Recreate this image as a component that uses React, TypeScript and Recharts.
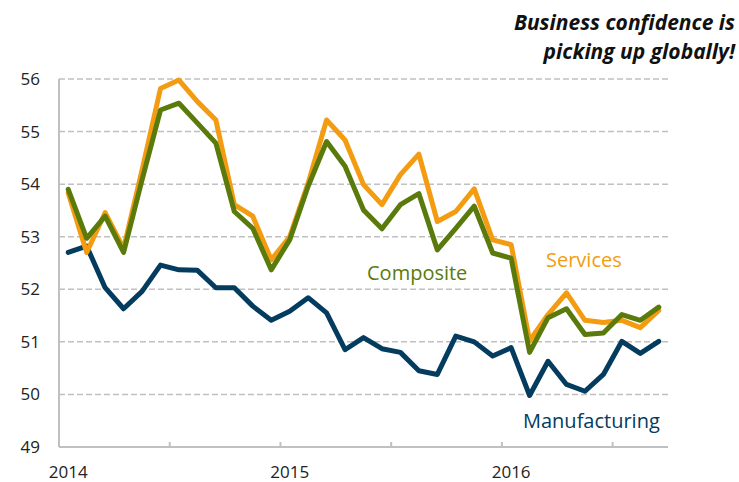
import { LineChart, Line, XAxis, YAxis, CartesianGrid } from "recharts";

const months = [
  "Jan 14", "Feb 14", "Mar 14", "Apr 14", "May 14", "Jun 14", "Jul 14", "Aug 14", "Sep 14", "Oct 14", "Nov 14", "Dec 14",
  "Jan 15", "Feb 15", "Mar 15", "Apr 15", "May 15", "Jun 15", "Jul 15", "Aug 15", "Sep 15", "Oct 15", "Nov 15", "Dec 15",
  "Jan 16", "Feb 16", "Mar 16", "Apr 16", "May 16", "Jun 16", "Jul 16", "Aug 16", "Sep 16",
];

const services = [
  53.83, 52.7, 53.46, 52.78, 54.27, 55.82, 55.98, 55.57, 55.22, 53.61, 53.39, 52.56,
  53.0, 54.02, 55.22, 54.84, 53.99, 53.61, 54.18, 54.57, 53.29, 53.48, 53.91, 52.94,
  52.85, 51.02, 51.52, 51.93, 51.41, 51.37, 51.41, 51.27, 51.6,
];

const composite = [
  53.9, 52.97, 53.39, 52.7, 54.08, 55.41, 55.54, 55.16, 54.78, 53.48, 53.16, 52.37,
  52.94, 53.96, 54.81, 54.34, 53.51, 53.15, 53.61, 53.82, 52.75, 53.16, 53.58, 52.69,
  52.59, 50.8, 51.46, 51.63, 51.14, 51.17, 51.52, 51.41, 51.66,
];

const manufacturing = [
  52.7, 52.82, 52.03, 51.63, 51.96, 52.46, 52.37, 52.36, 52.03, 52.03, 51.68, 51.41,
  51.58, 51.84, 51.55, 50.85, 51.08, 50.87, 50.8, 50.45, 50.38, 51.11, 51.0, 50.73,
  50.89, 49.98, 50.63, 50.19, 50.06, 50.38, 51.01, 50.78, 51.01,
];

const years = ["2014", "2015", "2016"];
const yTicks = [49, 50, 51, 52, 53, 54, 55, 56];
// year labels sit on january, tick marks between months every half year
const xTicks = [0, 5.5, 11.5, 12, 17.5, 23.5, 24, 29.5];

const ORANGE = "#f39c12";
const GREEN = "#5a7a0b";
const NAVY = "#033c5e";
const GRID = "#c0c0c0";
const FONT = "'Open Sans', sans-serif";

const data = months.map((m, i) => ({
  i,
  month: m,
  services: services[i],
  composite: composite[i],
  manufacturing: manufacturing[i],
}));

const XTick = ({ x, y, payload }: any) => {
  const v = payload.value;
  if (Number.isInteger(v)) {
    return (
      <text x={x} y={y + 31} textAnchor="middle" fontSize={17} fill="#222" fontFamily={FONT}>
        {years[v / 12]}
      </text>
    );
  }
  return <line x1={x} x2={x} y1={y} y2={y - 5} stroke={GRID} strokeWidth={2} />;
};

export default function App() {
  return (
    <div style={{ position: "absolute", left: 0, top: 0, width: 739, height: 482, background: "#fff" }}>
      <LineChart width={739} height={482} data={data} margin={{ top: 79, right: 71, bottom: 0, left: 0 }}>
        <CartesianGrid vertical={false} stroke={GRID} strokeDasharray="6 3" strokeWidth={1.5} />
        <XAxis
          dataKey="i" type="number" domain={[-0.5, 32.5]} ticks={xTicks} interval={0}
          height={35} tickSize={0} tickMargin={0} tickLine={false}
          axisLine={{ stroke: GRID, strokeWidth: 2 }} tick={<XTick />}
        />
        <YAxis
          domain={[49, 56]} ticks={yTicks} interval={0} width={59}
          tickSize={0} tickMargin={19} tickLine={false}
          axisLine={{ stroke: GRID, strokeWidth: 2 }}
          tick={{ fill: "#222", fontSize: 17, fontFamily: FONT }}
        />
        <Line type="linear" dataKey="manufacturing" stroke={NAVY} strokeWidth={5} dot={false}
          strokeLinejoin="round" strokeLinecap="round" isAnimationActive={false} />
        <Line type="linear" dataKey="services" stroke={ORANGE} strokeWidth={5} dot={false}
          strokeLinejoin="round" strokeLinecap="round" isAnimationActive={false} />
        <Line type="linear" dataKey="composite" stroke={GREEN} strokeWidth={5} dot={false}
          strokeLinejoin="round" strokeLinecap="round" isAnimationActive={false} />
      </LineChart>
      <svg width={739} height={482} style={{ position: "absolute", left: 0, top: 0, pointerEvents: "none" }}>
        <g fontFamily={FONT}>
          <g fontSize={21} fontWeight={700} fontStyle="italic" fill="#111">
            <text x={735} y={30} textAnchor="end">Business confidence is</text>
            <text x={735} y={59} textAnchor="end">picking up globally!</text>
          </g>
          <g fontSize={20}>
            <text x={367} y={280} fill={GREEN}>Composite</text>
            <text x={546} y={267} fill={ORANGE}>Services</text>
            <text x={523} y={428} fill={NAVY}>Manufacturing</text>
          </g>
        </g>
      </svg>
    </div>
  );
}
